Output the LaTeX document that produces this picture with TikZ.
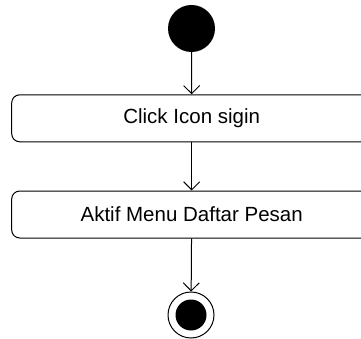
\documentclass[tikz,border=0pt]{standalone}
\usepackage{fontspec}
\setmainfont{Liberation Sans}
\usetikzlibrary{arrows.meta}
\tikzset{
  action/.style={draw=black, line width=1pt, rounded corners=8pt, minimum width=360pt, minimum height=47pt, inner sep=0pt, font=\fontsize{20.5}{24}\selectfont},
  flow/.style={draw=black, line width=1pt, -{Straight Barb[length=8pt,width=16pt,line width=1pt]}},
  startdot/.style={circle, fill=black, minimum size=47pt, inner sep=0pt},
  endring/.style={circle, draw=black, line width=1pt, minimum size=46pt, inner sep=0pt},
  enddot/.style={circle, fill=black, minimum size=31pt, inner sep=0pt}
}
\begin{document}
\begin{tikzpicture}[x=1pt,y=-1pt]
  \useasboundingbox (0,0) rectangle (361,339);
  \node[startdot] (start) at (191.5,28.5) {};
  \node[action] (click) at (191.7,118.3) {Click Icon sigin};
  \node[action] (menu) at (191.7,214.5) {Aktif Menu Daftar Pesan};
  \node[endring] (end) at (191,315) {};
  \node[enddot] (endin) at (191,315) {};
  \draw[flow] (start) -- (click);
  \draw[flow] (click) -- (menu);
  \draw[flow] (menu) -- (end);
\end{tikzpicture}
\end{document}
